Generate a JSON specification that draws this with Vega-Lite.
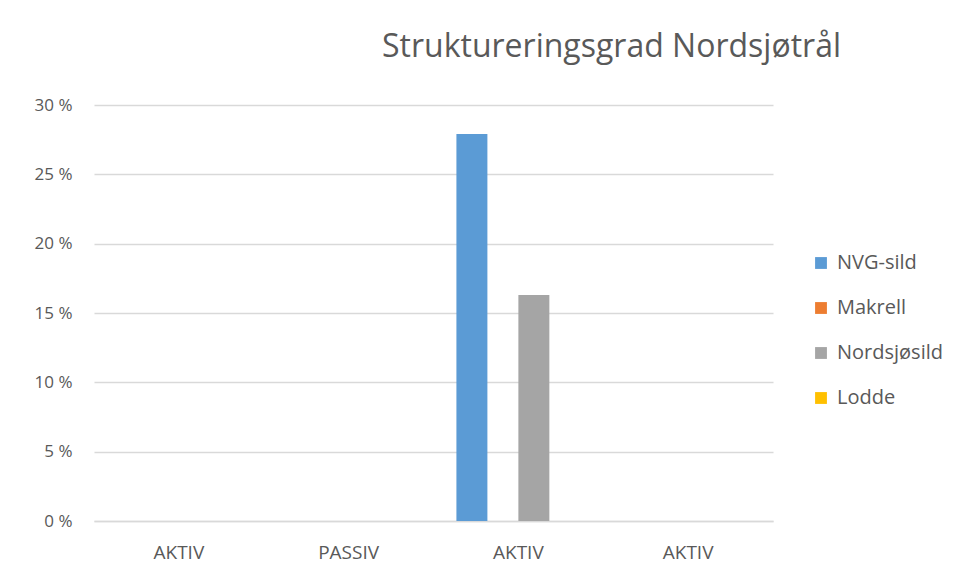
{
  "$schema": "https://vega.github.io/schema/vega-lite/v6.json",
  "width": 679,
  "height": 416,
  "autosize": {"type": "none"},
  "padding": {"left": 94, "top": 105, "right": 186, "bottom": 55},
  "background": "#ffffff",
  "title": {
    "text": "Struktureringsgrad Nordsjøtrål",
    "anchor": "middle",
    "dx": 178,
    "offset": 32,
    "fontSize": 32,
    "font": "Open Sans",
    "fontWeight": "normal",
    "color": "#595959"
  },
  "data": {
    "values": [
      {"gruppe": "AKTIV_1", "art": "NVG-sild", "verdi": 0},
      {"gruppe": "AKTIV_1", "art": "Makrell", "verdi": 0},
      {"gruppe": "AKTIV_1", "art": "Nordsjøsild", "verdi": 0},
      {"gruppe": "AKTIV_1", "art": "Lodde", "verdi": 0},
      {"gruppe": "PASSIV_2", "art": "NVG-sild", "verdi": 0},
      {"gruppe": "PASSIV_2", "art": "Makrell", "verdi": 0},
      {"gruppe": "PASSIV_2", "art": "Nordsjøsild", "verdi": 0},
      {"gruppe": "PASSIV_2", "art": "Lodde", "verdi": 0},
      {"gruppe": "AKTIV_3", "art": "NVG-sild", "verdi": 27.9},
      {"gruppe": "AKTIV_3", "art": "Makrell", "verdi": 0},
      {"gruppe": "AKTIV_3", "art": "Nordsjøsild", "verdi": 16.3},
      {"gruppe": "AKTIV_3", "art": "Lodde", "verdi": 0},
      {"gruppe": "AKTIV_4", "art": "NVG-sild", "verdi": 0},
      {"gruppe": "AKTIV_4", "art": "Makrell", "verdi": 0},
      {"gruppe": "AKTIV_4", "art": "Nordsjøsild", "verdi": 0},
      {"gruppe": "AKTIV_4", "art": "Lodde", "verdi": 0}
    ]
  },
  "mark": {"type": "bar"},
  "encoding": {
    "x": {
      "field": "gruppe",
      "type": "nominal",
      "sort": null,
      "scale": {"paddingInner": 0.27, "paddingOuter": 0.135},
      "axis": {
        "title": null,
        "labelAngle": 0,
        "labelExpr": "split(datum.value, '_')[0]",
        "labelFont": "Open Sans",
        "labelFontSize": 19,
        "labelColor": "#595959",
        "labelPadding": 22,
        "ticks": false,
        "domainColor": "#d9d9d9",
        "domainWidth": 1.5
      }
    },
    "xOffset": {
      "field": "art",
      "type": "nominal",
      "sort": ["NVG-sild", "Makrell", "Nordsjøsild", "Lodde"],
      "scale": {"paddingInner": 0, "paddingOuter": 0}
    },
    "y": {
      "field": "verdi",
      "type": "quantitative",
      "scale": {"domain": [0, 30], "nice": false},
      "axis": {
        "title": null,
        "values": [0, 5, 10, 15, 20, 25, 30],
        "labelExpr": "datum.value + ' %'",
        "labelFont": "Open Sans",
        "labelFontSize": 17,
        "labelColor": "#595959",
        "labelPadding": 22,
        "ticks": false,
        "domain": false,
        "gridColor": "#d9d9d9",
        "gridWidth": 1.5
      }
    },
    "color": {
      "field": "art",
      "type": "nominal",
      "sort": ["NVG-sild", "Makrell", "Nordsjøsild", "Lodde"],
      "scale": {
        "domain": ["NVG-sild", "Makrell", "Nordsjøsild", "Lodde"],
        "range": ["#5B9BD5", "#ED7D31", "#A5A5A5", "#FFC000"]
      },
      "legend": {
        "title": null,
        "orient": "none",
        "legendX": 717,
        "legendY": 148,
        "symbolType": "square",
        "symbolSize": 140,
        "symbolStrokeWidth": 0,
        "labelFont": "Open Sans",
        "labelFontSize": 20,
        "labelColor": "#595959",
        "rowPadding": 25,
        "labelOffset": 6
      }
    }
  },
  "config": {"view": {"stroke": null}}
}
